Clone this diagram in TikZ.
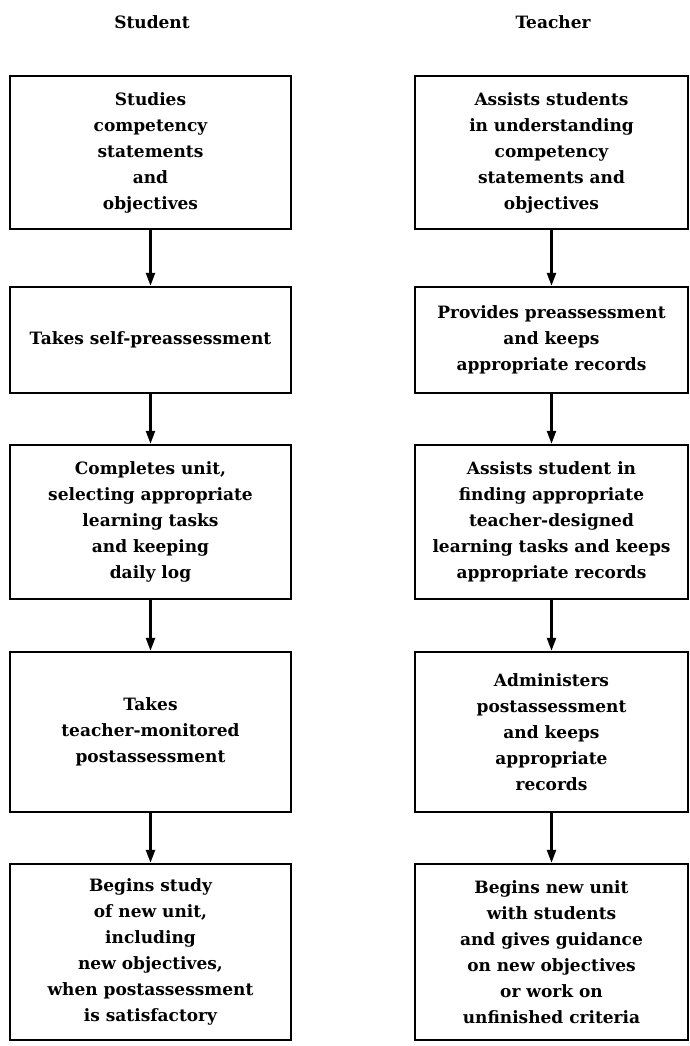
\documentclass[tikz,border=0pt]{standalone}
\usepackage{fontspec}
\setmainfont{DejaVu Serif}
\usetikzlibrary{arrows.meta}
\begin{document}
\begin{tikzpicture}[x=1pt,y=-1pt,
  box/.style={draw,line width=2.4pt,align=center,inner sep=0pt,
    font=\bfseries\fontsize{17}{26}\selectfont},
  sbox/.style={box,minimum width=281pt},
  tbox/.style={box,minimum width=273pt},
  head/.style={font=\bfseries\fontsize{17}{20}\selectfont},
  flow/.style={line width=2.4pt,-{Triangle[width=9pt,length=13pt]}}]
\useasboundingbox (0,0) rectangle (690,1046);
\node[head] (hs) at (152,22) {Student};
\node[head] (ht) at (553,22) {Teacher};
% student column
\node[sbox,minimum height=153pt] (s1) at (150.5,152.5) {Studies\\competency\\statements\\and\\objectives};
\node[sbox,minimum height=106pt] (s2) at (150.5,340) {Takes self-preassessment};
\node[sbox,minimum height=154pt] (s3) at (150.5,522) {Completes unit,\\selecting appropriate\\learning tasks\\and keeping\\daily log};
\node[sbox,minimum height=160pt] (s4) at (150.5,732) {Takes\\teacher-monitored\\postassessment};
\node[sbox,minimum height=176pt] (s5) at (150.5,952) {Begins study\\of new unit,\\including\\new objectives,\\when postassessment\\is satisfactory};
% teacher column
\node[tbox,minimum height=153pt] (t1) at (551.5,152.5) {Assists students\\in understanding\\competency\\statements and\\objectives};
\node[tbox,minimum height=106pt] (t2) at (551.5,340) {Provides preassessment\\and keeps\\appropriate records};
\node[tbox,minimum height=154pt] (t3) at (551.5,522) {Assists student in\\finding appropriate\\teacher-designed\\learning tasks and keeps\\appropriate records};
\node[tbox,minimum height=160pt] (t4) at (551.5,732) {Administers\\postassessment\\and keeps\\appropriate\\records};
\node[tbox,minimum height=176pt] (t5) at (551.5,952) {Begins new unit\\with students\\and gives guidance\\on new objectives\\or work on\\unfinished criteria};
% connectors
\draw[flow] (s1) -- (s2);
\draw[flow] (s2) -- (s3);
\draw[flow] (s3) -- (s4);
\draw[flow] (s4) -- (s5);
\draw[flow] (t1) -- (t2);
\draw[flow] (t2) -- (t3);
\draw[flow] (t3) -- (t4);
\draw[flow] (t4) -- (t5);
\end{tikzpicture}
\end{document}
